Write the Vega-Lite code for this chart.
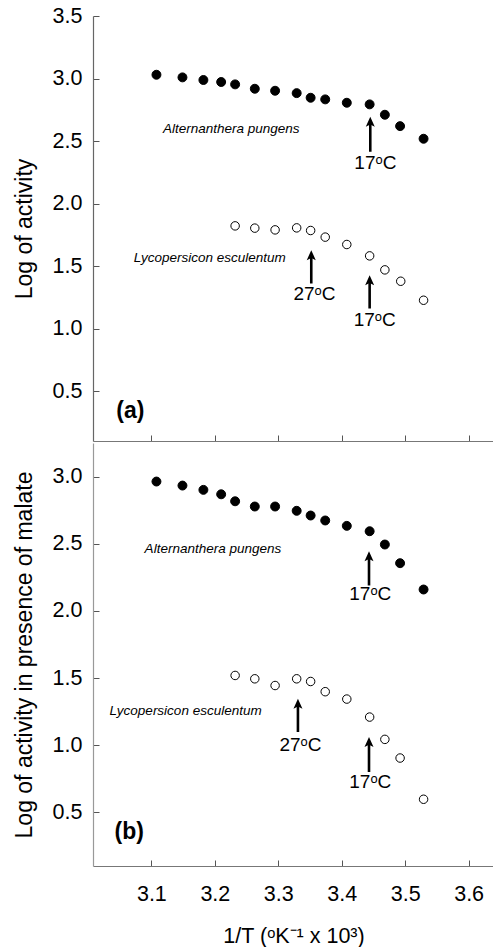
{
  "$schema": "https://vega.github.io/schema/vega-lite/v6.json",
  "background": "white",
  "padding": {"left": 13, "top": 5, "right": 0, "bottom": 0},
  "spacing": 1,
  "config": {
    "view": {"stroke": null},
    "font": "Liberation Sans",
    "axis": {
      "labelFont": "Liberation Sans", "labelFontSize": 21.5, "labelColor": "black",
      "titleFont": "Liberation Sans", "titleFontSize": 23, "titleFontWeight": "normal", "titleColor": "black",
      "grid": false, "domainColor": "#777777", "tickColor": "#555555", "tickSize": -6, "domainWidth": 1.2, "tickWidth": 1
    }
  },
  "datasets": {
    "pts": [
      {"panel": "a", "species": "A", "x": 3.108, "y": 3.030},
      {"panel": "a", "species": "A", "x": 3.149, "y": 3.009},
      {"panel": "a", "species": "A", "x": 3.182, "y": 2.988},
      {"panel": "a", "species": "A", "x": 3.210, "y": 2.972},
      {"panel": "a", "species": "A", "x": 3.232, "y": 2.953},
      {"panel": "a", "species": "A", "x": 3.263, "y": 2.918},
      {"panel": "a", "species": "A", "x": 3.295, "y": 2.902},
      {"panel": "a", "species": "A", "x": 3.329, "y": 2.883},
      {"panel": "a", "species": "A", "x": 3.351, "y": 2.846},
      {"panel": "a", "species": "A", "x": 3.374, "y": 2.833},
      {"panel": "a", "species": "A", "x": 3.408, "y": 2.806},
      {"panel": "a", "species": "A", "x": 3.444, "y": 2.793},
      {"panel": "a", "species": "A", "x": 3.468, "y": 2.710},
      {"panel": "a", "species": "A", "x": 3.492, "y": 2.619},
      {"panel": "a", "species": "A", "x": 3.529, "y": 2.518},
      {"panel": "a", "species": "L", "x": 3.232, "y": 1.821},
      {"panel": "a", "species": "L", "x": 3.263, "y": 1.803},
      {"panel": "a", "species": "L", "x": 3.295, "y": 1.789},
      {"panel": "a", "species": "L", "x": 3.329, "y": 1.805},
      {"panel": "a", "species": "L", "x": 3.351, "y": 1.784},
      {"panel": "a", "species": "L", "x": 3.374, "y": 1.731},
      {"panel": "a", "species": "L", "x": 3.408, "y": 1.672},
      {"panel": "a", "species": "L", "x": 3.444, "y": 1.581},
      {"panel": "a", "species": "L", "x": 3.468, "y": 1.469},
      {"panel": "a", "species": "L", "x": 3.493, "y": 1.378},
      {"panel": "a", "species": "L", "x": 3.529, "y": 1.226},
      {"panel": "b", "species": "A", "x": 3.108, "y": 2.963},
      {"panel": "b", "species": "A", "x": 3.149, "y": 2.933},
      {"panel": "b", "species": "A", "x": 3.182, "y": 2.901},
      {"panel": "b", "species": "A", "x": 3.210, "y": 2.868},
      {"panel": "b", "species": "A", "x": 3.232, "y": 2.816},
      {"panel": "b", "species": "A", "x": 3.263, "y": 2.777},
      {"panel": "b", "species": "A", "x": 3.295, "y": 2.777},
      {"panel": "b", "species": "A", "x": 3.329, "y": 2.745},
      {"panel": "b", "species": "A", "x": 3.351, "y": 2.710},
      {"panel": "b", "species": "A", "x": 3.374, "y": 2.673},
      {"panel": "b", "species": "A", "x": 3.408, "y": 2.633},
      {"panel": "b", "species": "A", "x": 3.444, "y": 2.593},
      {"panel": "b", "species": "A", "x": 3.468, "y": 2.494},
      {"panel": "b", "species": "A", "x": 3.492, "y": 2.355},
      {"panel": "b", "species": "A", "x": 3.529, "y": 2.159},
      {"panel": "b", "species": "L", "x": 3.232, "y": 1.519},
      {"panel": "b", "species": "L", "x": 3.263, "y": 1.494},
      {"panel": "b", "species": "L", "x": 3.295, "y": 1.444},
      {"panel": "b", "species": "L", "x": 3.329, "y": 1.494},
      {"panel": "b", "species": "L", "x": 3.351, "y": 1.474},
      {"panel": "b", "species": "L", "x": 3.374, "y": 1.398},
      {"panel": "b", "species": "L", "x": 3.408, "y": 1.343},
      {"panel": "b", "species": "L", "x": 3.444, "y": 1.209},
      {"panel": "b", "species": "L", "x": 3.468, "y": 1.043},
      {"panel": "b", "species": "L", "x": 3.492, "y": 0.904},
      {"panel": "b", "species": "L", "x": 3.529, "y": 0.597}
    ],
    "arrows": [
      {"panel": "a", "x": 3.445, "ytop": 2.694, "yshaft": 2.650, "ybot": 2.414},
      {"panel": "a", "x": 3.352, "ytop": 1.627, "yshaft": 1.583, "ybot": 1.360},
      {"panel": "a", "x": 3.444, "ytop": 1.426, "yshaft": 1.382, "ybot": 1.160},
      {"panel": "b", "x": 3.443, "ytop": 2.444, "yshaft": 2.403, "ybot": 2.189},
      {"panel": "b", "x": 3.331, "ytop": 1.346, "yshaft": 1.305, "ybot": 1.098},
      {"panel": "b", "x": 3.443, "ytop": 1.060, "yshaft": 1.019, "ybot": 0.800}
    ],
    "labels": [
      {"panel": "a", "kind": "temp", "x": 3.453, "y": 2.321, "text": "17ᵒC"},
      {"panel": "a", "kind": "temp", "x": 3.357, "y": 1.280, "text": "27ᵒC"},
      {"panel": "a", "kind": "temp", "x": 3.452, "y": 1.072, "text": "17ᵒC"},
      {"panel": "b", "kind": "temp", "x": 3.445, "y": 2.122, "text": "17ᵒC"},
      {"panel": "b", "kind": "temp", "x": 3.335, "y": 1.003, "text": "27ᵒC"},
      {"panel": "b", "kind": "temp", "x": 3.445, "y": 0.729, "text": "17ᵒC"},
      {"panel": "a", "kind": "species", "x": 3.226, "y": 2.593, "text": "Alternanthera pungens"},
      {"panel": "a", "kind": "species", "x": 3.192, "y": 1.568, "text": "Lycopersicon esculentum"},
      {"panel": "b", "kind": "species", "x": 3.197, "y": 2.462, "text": "Alternanthera pungens"},
      {"panel": "b", "kind": "species", "x": 3.154, "y": 1.251, "text": "Lycopersicon esculentum"},
      {"panel": "a", "kind": "panel", "x": 3.067, "y": 0.340, "text": "(a)"},
      {"panel": "b", "kind": "panel", "x": 3.065, "y": 0.353, "text": "(b)"}
    ]
  },
  "vconcat": [
    {
      "width": 401,
      "height": 425,
      "layer": [
        {
          "mark": {"type": "rule", "color": "#aaaaaa", "strokeWidth": 1.5},
          "encoding": {"y": {"datum": 3.5, "type": "quantitative"}}
        },
        {
          "data": {"name": "pts"},
          "transform": [{"filter": "datum.panel === 'a' && datum.species === 'A'"}],
          "mark": {"type": "point", "shape": "circle", "filled": true, "opacity": 1, "fill": "black", "stroke": "black", "strokeWidth": 1, "size": 80},
          "encoding": {
            "x": {"field": "x", "type": "quantitative", "scale": {"domain": [3.008, 3.64], "nice": false, "zero": false},
                  "axis": {"values": [3.1, 3.2, 3.3, 3.4, 3.5, 3.6], "labels": false, "title": null}},
            "y": {"field": "y", "type": "quantitative", "scale": {"domain": [0.1, 3.5], "nice": false, "zero": false},
                  "axis": {"values": [0.5, 1, 1.5, 2, 2.5, 3, 3.5], "format": ".1f", "labelPadding": 17, "titlePadding": 16, "title": "Log of activity", "domainColor": "#666666"}}
          }
        },
        {
          "data": {"name": "pts"},
          "transform": [{"filter": "datum.panel === 'a' && datum.species === 'L'"}],
          "mark": {"type": "point", "shape": "circle", "filled": true, "opacity": 1, "fill": "white", "stroke": "black", "strokeWidth": 1, "size": 72},
          "encoding": {"x": {"field": "x", "type": "quantitative"}, "y": {"field": "y", "type": "quantitative"}}
        },
        {
          "data": {"name": "arrows"},
          "transform": [{"filter": "datum.panel === 'a'"}],
          "mark": {"type": "rule", "color": "black", "strokeWidth": 2.6},
          "encoding": {"x": {"field": "x", "type": "quantitative"}, "y": {"field": "ybot", "type": "quantitative"}, "y2": {"field": "yshaft"}}
        },
        {
          "data": {"name": "arrows"},
          "transform": [{"filter": "datum.panel === 'a'"}],
          "mark": {"type": "point", "shape": "M0,0 L0.9,2 L0,1.55 L-0.9,2 Z", "filled": true, "opacity": 1, "fill": "black", "strokeWidth": 0, "size": 100},
          "encoding": {"x": {"field": "x", "type": "quantitative"}, "y": {"field": "ytop", "type": "quantitative"}}
        },
        {
          "data": {"name": "labels"},
          "transform": [{"filter": "datum.panel === 'a' && datum.kind === 'temp'"}],
          "mark": {"type": "text", "font": "Liberation Sans", "fontSize": 19, "color": "black", "baseline": "middle", "align": "center"},
          "encoding": {"x": {"field": "x", "type": "quantitative"}, "y": {"field": "y", "type": "quantitative"}, "text": {"field": "text"}}
        },
        {
          "data": {"name": "labels"},
          "transform": [{"filter": "datum.panel === 'a' && datum.kind === 'species'"}],
          "mark": {"type": "text", "font": "Liberation Sans", "fontSize": 13.5, "fontStyle": "italic", "color": "black", "baseline": "middle", "align": "center"},
          "encoding": {"x": {"field": "x", "type": "quantitative"}, "y": {"field": "y", "type": "quantitative"}, "text": {"field": "text"}}
        },
        {
          "data": {"name": "labels"},
          "transform": [{"filter": "datum.panel === 'a' && datum.kind === 'panel'"}],
          "mark": {"type": "text", "font": "Liberation Sans", "fontSize": 23, "fontWeight": "bold", "color": "black", "baseline": "middle", "align": "center"},
          "encoding": {"x": {"field": "x", "type": "quantitative"}, "y": {"field": "y", "type": "quantitative"}, "text": {"field": "text"}}
        }
      ]
    },
    {
      "width": 401,
      "height": 423,
      "layer": [
        {
          "mark": {"type": "rule", "color": "#aaaaaa", "strokeWidth": 1.5},
          "encoding": {"y": {"datum": 3.25, "type": "quantitative"}}
        },
        {
          "data": {"name": "pts"},
          "transform": [{"filter": "datum.panel === 'b' && datum.species === 'A'"}],
          "mark": {"type": "point", "shape": "circle", "filled": true, "opacity": 1, "fill": "black", "stroke": "black", "strokeWidth": 1, "size": 80},
          "encoding": {
            "x": {"field": "x", "type": "quantitative", "scale": {"domain": [3.008, 3.64], "nice": false, "zero": false},
                  "axis": {"values": [3.1, 3.2, 3.3, 3.4, 3.5, 3.6], "format": ".1f", "labelPadding": 23, "titlePadding": 21, "title": "1/T (ᵒK⁻¹ x 10³)", "titleFontSize": 21.5}},
            "y": {"field": "y", "type": "quantitative", "scale": {"domain": [0.1, 3.25], "nice": false, "zero": false},
                  "axis": {"values": [0.5, 1, 1.5, 2, 2.5, 3], "format": ".1f", "labelPadding": 17, "titlePadding": 16, "title": "Log of activity in presence of malate", "domainColor": "#999999"}}
          }
        },
        {
          "data": {"name": "pts"},
          "transform": [{"filter": "datum.panel === 'b' && datum.species === 'L'"}],
          "mark": {"type": "point", "shape": "circle", "filled": true, "opacity": 1, "fill": "white", "stroke": "black", "strokeWidth": 1, "size": 72},
          "encoding": {"x": {"field": "x", "type": "quantitative"}, "y": {"field": "y", "type": "quantitative"}}
        },
        {
          "data": {"name": "arrows"},
          "transform": [{"filter": "datum.panel === 'b'"}],
          "mark": {"type": "rule", "color": "black", "strokeWidth": 2.6},
          "encoding": {"x": {"field": "x", "type": "quantitative"}, "y": {"field": "ybot", "type": "quantitative"}, "y2": {"field": "yshaft"}}
        },
        {
          "data": {"name": "arrows"},
          "transform": [{"filter": "datum.panel === 'b'"}],
          "mark": {"type": "point", "shape": "M0,0 L0.9,2 L0,1.55 L-0.9,2 Z", "filled": true, "opacity": 1, "fill": "black", "strokeWidth": 0, "size": 100},
          "encoding": {"x": {"field": "x", "type": "quantitative"}, "y": {"field": "ytop", "type": "quantitative"}}
        },
        {
          "data": {"name": "labels"},
          "transform": [{"filter": "datum.panel === 'b' && datum.kind === 'temp'"}],
          "mark": {"type": "text", "font": "Liberation Sans", "fontSize": 19, "color": "black", "baseline": "middle", "align": "center"},
          "encoding": {"x": {"field": "x", "type": "quantitative"}, "y": {"field": "y", "type": "quantitative"}, "text": {"field": "text"}}
        },
        {
          "data": {"name": "labels"},
          "transform": [{"filter": "datum.panel === 'b' && datum.kind === 'species'"}],
          "mark": {"type": "text", "font": "Liberation Sans", "fontSize": 13.5, "fontStyle": "italic", "color": "black", "baseline": "middle", "align": "center"},
          "encoding": {"x": {"field": "x", "type": "quantitative"}, "y": {"field": "y", "type": "quantitative"}, "text": {"field": "text"}}
        },
        {
          "data": {"name": "labels"},
          "transform": [{"filter": "datum.panel === 'b' && datum.kind === 'panel'"}],
          "mark": {"type": "text", "font": "Liberation Sans", "fontSize": 23, "fontWeight": "bold", "color": "black", "baseline": "middle", "align": "center"},
          "encoding": {"x": {"field": "x", "type": "quantitative"}, "y": {"field": "y", "type": "quantitative"}, "text": {"field": "text"}}
        }
      ]
    }
  ]
}
